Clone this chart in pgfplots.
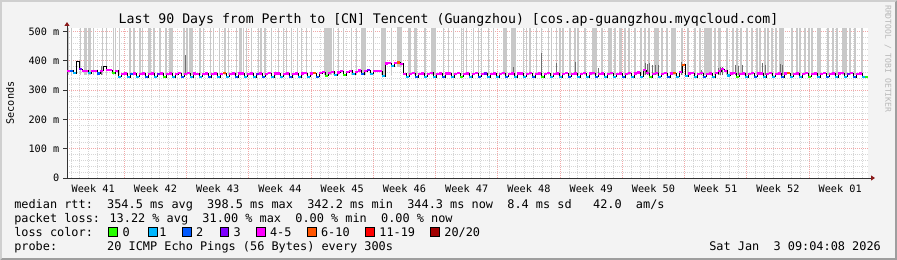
\documentclass[border=0pt]{standalone}
\usepackage{fontspec}
\setmainfont{DejaVu Sans Mono}
\usepackage{pgfplots}
\usepackage{pgfplotstable}
\pgfplotsset{compat=1.18}
\usetikzlibrary{arrows.meta}

\definecolor{bgc}{HTML}{F3F3F3}
\definecolor{shadea}{HTML}{CFCFCF}
\definecolor{shadeb}{HTML}{9E9E9E}
\definecolor{mgrid}{HTML}{F2A8A8}
\definecolor{ngrid}{HTML}{D6D6D6}
\definecolor{smoke}{HTML}{C8C8C8}
\definecolor{dsmoke}{HTML}{707070}
\definecolor{arrowc}{HTML}{8B1A1A}
\definecolor{wm}{HTML}{B8B8B8}
\definecolor{l0}{HTML}{26FF00}
\definecolor{l1}{HTML}{00B8FF}
\definecolor{l2}{HTML}{0059FF}
\definecolor{l3}{HTML}{7E00FF}
\definecolor{l4}{HTML}{FF00FF}
\definecolor{l5}{HTML}{FF5500}
\definecolor{l6}{HTML}{FF0000}
\definecolor{l7}{HTML}{A10000}
\definecolor{l8}{HTML}{000000}

\newcommand{\lgf}{\fontsize{11.87bp}{14bp}\selectfont}
\newcommand{\axf}{\fontsize{10.2bp}{12bp}\selectfont}

% median rtt (ms) per 3-pixel time step; c = loss colour index
\pgfplotstableread[row sep=\\]{
x y c\\
0 366 4\\ 3 366 2\\ 6 358 1\\
9 398 8\\ 12 372 3\\ 15 366 4\\
18 366 4\\ 21 358 1\\ 24 366 4\\
27 366 4\\ 30 357 2\\ 33 366 4\\
36 381 8\\ 39 368 4\\ 42 368 4\\
45 358 0\\ 48 366 4\\ 51 346 1\\
54 356 4\\ 57 357 4\\ 60 345 1\\
63 355 2\\ 66 357 4\\ 69 346 1\\
72 356 4\\ 75 357 4\\ 78 344 2\\
81 356 4\\ 84 357 4\\ 87 346 1\\
90 356 3\\ 93 357 4\\ 96 345 0\\
99 356 4\\ 102 357 4\\ 105 345 1\\
108 355 4\\ 111 358 4\\ 114 346 2\\
117 356 4\\ 120 358 4\\ 123 345 1\\
126 357 4\\ 129 356 4\\ 132 346 1\\
135 355 4\\ 138 357 4\\ 141 344 2\\
144 356 4\\ 147 357 4\\ 150 345 1\\
153 356 4\\ 156 358 5\\ 159 346 1\\
162 356 4\\ 165 357 4\\ 168 345 2\\
171 357 4\\ 174 357 4\\ 177 346 1\\
180 356 4\\ 183 357 4\\ 186 345 1\\
189 356 3\\ 192 357 4\\ 195 346 2\\
198 356 4\\ 201 358 4\\ 204 345 1\\
207 357 4\\ 210 357 4\\ 213 346 1\\
216 356 4\\ 219 357 4\\ 222 345 2\\
225 356 4\\ 228 357 4\\ 231 345 1\\
234 357 4\\ 237 358 4\\ 240 346 1\\
243 357 4\\ 246 358 5\\ 249 346 2\\
252 358 4\\ 255 362 4\\ 258 349 0\\
261 359 4\\ 264 363 4\\ 267 352 1\\
270 360 4\\ 273 364 4\\ 276 352 0\\
279 362 4\\ 282 366 4\\ 285 354 1\\
288 363 4\\ 291 367 4\\ 294 355 2\\
297 364 4\\ 300 368 3\\ 303 356 1\\
306 365 4\\ 309 365 4\\ 312 365 4\\
315 348 1\\ 318 391 4\\ 321 393 4\\
324 382 1\\ 327 392 4\\ 330 394 5\\
333 390 4\\ 336 356 4\\ 339 346 1\\
342 356 4\\ 345 358 4\\ 348 345 2\\
351 356 4\\ 354 357 4\\ 357 346 1\\
360 356 4\\ 363 359 4\\ 366 345 1\\
369 356 4\\ 372 357 4\\ 375 344 2\\
378 357 4\\ 381 357 4\\ 384 345 1\\
387 356 4\\ 390 358 4\\ 393 346 0\\
396 356 4\\ 399 357 4\\ 402 345 1\\
405 356 4\\ 408 358 4\\ 411 346 2\\
414 356 4\\ 417 357 3\\ 420 345 1\\
423 356 4\\ 426 357 4\\ 429 345 1\\
432 356 4\\ 435 358 4\\ 438 346 2\\
441 356 4\\ 444 357 4\\ 447 345 1\\
450 357 4\\ 453 357 4\\ 456 346 1\\
459 356 4\\ 462 358 4\\ 465 345 2\\
468 356 4\\ 471 357 4\\ 474 345 0\\
477 356 4\\ 480 358 4\\ 483 346 1\\
486 356 4\\ 489 357 4\\ 492 345 1\\
495 356 4\\ 498 358 4\\ 501 346 2\\
504 356 4\\ 507 357 4\\ 510 345 1\\
513 356 4\\ 516 358 4\\ 519 345 1\\
522 357 4\\ 525 358 4\\ 528 346 2\\
531 356 4\\ 534 357 4\\ 537 345 1\\
540 356 4\\ 543 358 4\\ 546 346 1\\
549 356 4\\ 552 357 4\\ 555 345 2\\
558 356 4\\ 561 358 4\\ 564 345 1\\
567 357 4\\ 570 360 4\\ 573 346 1\\
576 368 4\\ 579 358 4\\ 582 345 0\\
585 356 4\\ 588 358 4\\ 591 346 1\\
594 356 4\\ 597 358 4\\ 600 345 2\\
603 357 4\\ 606 358 5\\ 609 346 1\\
612 362 4\\ 615 387 5\\ 618 348 1\\
621 357 4\\ 624 358 4\\ 627 345 1\\
630 356 4\\ 633 358 4\\ 636 346 2\\
639 356 4\\ 642 357 4\\ 645 345 1\\
648 358 4\\ 651 364 4\\ 654 372 4\\
657 366 4\\ 660 350 1\\ 663 357 4\\
666 358 4\\ 669 346 0\\ 672 356 4\\
675 357 4\\ 678 345 1\\ 681 356 4\\
684 358 4\\ 687 346 2\\ 690 357 4\\
693 357 4\\ 696 345 1\\ 699 356 4\\
702 358 4\\ 705 346 1\\ 708 356 4\\
711 357 4\\ 714 345 2\\ 717 357 4\\
720 358 5\\ 723 346 1\\ 726 356 4\\
729 357 4\\ 732 345 1\\ 735 356 4\\
738 358 4\\ 741 346 0\\ 744 356 4\\
747 357 4\\ 750 345 1\\ 753 356 4\\
756 358 4\\ 759 346 2\\ 762 356 4\\
765 357 4\\ 768 345 1\\ 771 357 4\\
774 358 4\\ 777 346 1\\ 780 356 3\\
783 358 4\\ 786 345 2\\ 789 356 4\\
792 357 4\\ 795 346 1\\ 798 344 0\\
}\median

% light smoke: lines from b up to the top of the graph
\pgfplotstableread[row sep=\\]{
x b\\
1.3 352\\ 4.7 352\\ 13.7 352\\ 18 352\\ 19.7 352\\ 21.3 352\\ 23 352\\ 26.3 352\\
35.3 352\\ 39.7 352\\ 46.3 352\\ 48.7 352\\ 52.3 352\\ 63 352\\ 67 352\\ 73 352\\
75.3 352\\ 81.3 352\\ 83 352\\ 87 352\\ 93 352\\ 99 352\\ 103 352\\ 105 352\\
117 352\\ 120 352\\ 123 352\\ 124.5 352\\ 125.7 352\\ 133 352\\ 136.3 352\\ 143.7 352\\
146.3 352\\ 152.3 352\\ 158 352\\ 161.3 352\\ 169.7 352\\ 173 352\\ 174 352\\ 176.3 352\\
179.7 352\\ 184.7 352\\ 191.3 352\\ 194 352\\ 198 352\\ 204.7 352\\ 211.3 352\\ 216.3 352\\
219.7 352\\ 224.7 352\\ 230.7 352\\ 234.7 352\\ 239.7 352\\ 244.7 352\\ 258 352\\ 259 352\\
260 352\\ 261 352\\ 262 352\\ 263 352\\ 264 352\\ 266.3 352\\ 271.3 352\\ 276.3 352\\
284.7 352\\ 289.7 352\\ 294.7 352\\ 295.7 352\\ 296.7 352\\ 298 352\\ 306.3 352\\ 314.7 352\\
315.7 352\\ 316.7 352\\ 318 352\\ 324.7 352\\ 331 380\\ 332 380\\ 333 380\\ 334.7 380\\
341.3 352\\ 343 352\\ 348 352\\ 349.7 352\\ 358 352\\ 364.7 352\\ 365.7 352\\ 366.7 352\\
368 352\\ 376.3 352\\ 381.3 352\\ 386.3 352\\ 394.7 352\\ 396.3 352\\ 399.7 352\\ 406.3 352\\
411.3 352\\ 414.7 352\\ 421.3 352\\ 426.3 352\\ 436.3 352\\ 437.3 352\\ 438.3 352\\ 439.7 352\\
444.7 352\\ 445.7 352\\ 446.7 352\\ 448 352\\ 456.3 352\\ 459.7 352\\ 463 352\\ 469.7 352\\
474.7 352\\ 481.3 352\\ 484.7 352\\ 489.7 352\\ 493 352\\ 496 352\\ 503 352\\ 508 352\\
511 352\\ 518 352\\ 526 352\\ 527 352\\ 528 352\\ 529 352\\ 535 352\\ 542 352\\
543 352\\ 544 352\\ 548 352\\ 553 352\\ 554 352\\ 558 352\\ 562 352\\ 568 352\\
574 352\\ 578 352\\ 582 352\\ 588 352\\ 589 352\\ 590 352\\ 591 352\\ 595 352\\
600 352\\ 605 352\\ 606 352\\ 607 352\\ 608 352\\ 615 352\\ 621 352\\ 628 352\\
633 352\\ 638 352\\ 640 352\\ 641 352\\ 642 352\\ 643 352\\ 644 352\\ 648 352\\
652 352\\ 653 352\\ 660 352\\ 666 352\\ 670 352\\ 674 352\\ 680 352\\ 685 352\\
690 352\\ 693 352\\ 698 352\\ 701 352\\ 705 352\\ 709 352\\ 713 352\\ 714 352\\
715 352\\ 716 352\\ 725 352\\ 730 352\\ 733 352\\ 738 352\\ 742 352\\ 745 352\\
751 352\\ 753 352\\ 761 352\\ 766 352\\ 770 352\\ 776 352\\ 777 352\\ 778 352\\
779 352\\ 783 352\\ 788 352\\ 795 352\\
}\smoke

% dark smoke near the median: base b, height h
\pgfplotstableread[row sep=\\]{
x b h\\
34 352 30\\ 118 352 68\\ 446.3 352 28\\ 474.7 352 73\\ 489.7 352 39\\ 508 352 45\\
531 352 22\\ 578 352 39\\ 580 352 36\\ 582 352 39\\ 585 352 34\\ 588 352 34\\
591 352 32\\ 614.7 352 43\\ 634.7 352 17\\ 651.3 352 22\\ 653 352 28\\ 655 352 26\\
668 352 34\\ 671 352 31\\ 675 352 34\\ 695 352 39\\ 698 352 33\\ 713 352 36\\
715 352 33\\
}\dsmoke

\begin{document}
\begin{tikzpicture}
\fill[shadeb] (0,0) rectangle (897bp,260bp);
\fill[shadea] (0,0) -- (0,260bp) -- (897bp,260bp) -- (895bp,258bp) -- (2bp,258bp) -- (2bp,2bp) -- cycle;
\fill[bgc] (2bp,2bp) rectangle (895bp,258bp);

\begin{axis}[
  at={(67bp,82bp)}, anchor=south west,
  scale only axis, width=801bp, height=150bp,
  xmin=0, xmax=801, ymin=0, ymax=512,
  axis x line*=bottom, axis y line*=left,
  axis line style={draw=black!80, line width=0.8bp},
  x axis line style={shorten >=-7bp, -{Triangle[width=5bp,length=4bp,color=arrowc]}},
  y axis line style={shorten >=-6bp, -{Triangle[width=5bp,length=4bp,color=arrowc]}},
  axis background/.style={fill=white},
  xtick={26.175,88.425,150.675,212.925,275.175,337.425,399.675,461.925,524.175,586.425,648.675,710.925,773.175},
  xticklabels={Week 41,Week 42,Week 43,Week 44,Week 45,Week 46,Week 47,Week 48,Week 49,Week 50,Week 51,Week 52,Week 01},
  xtick style={draw=none},
  extra x ticks={57.3,119.55,181.8,244.05,306.3,368.55,430.8,493.05,555.3,617.55,679.8,742.05},
  extra x tick labels={},
  extra x tick style={grid=major},
  minor xtick={3.94,12.833,...,800},
  xminorgrids,
  ytick={0,100,...,500},
  yticklabels={0,100 m,200 m,300 m,400 m,500 m},
  minor ytick={20,40,...,480},
  ymajorgrids, yminorgrids,
  major grid style={draw=mgrid, line width=0.8bp, dash pattern=on 1bp off 1bp},
  minor grid style={draw=ngrid, line width=0.8bp, dash pattern=on 1bp off 1bp},
  ytick style={draw=black!80, line width=0.8bp},
  major tick length=3.5bp, minor tick length=0pt,
  tick align=outside,
  ticklabel style={font=\axf},
  yticklabel style={anchor=east, inner sep=0pt, xshift=-4bp},
  xticklabel style={anchor=north, inner sep=0pt, yshift=-2.8bp},
]
\addplot[draw=smoke, line width=1.2bp, quiver={u=0, v=160}] table[x=x, y=b] {\smoke};
\addplot[draw=dsmoke, line width=1bp, quiver={u=0, v=\thisrow{h}}] table[x=x, y=b] {\dsmoke};
\addplot[draw=black, line width=0.7bp, const plot mark left] table[x=x, y=y] {\median};
\addplot[draw=l0, line width=2.2bp, quiver={u=3, v=0}, restrict expr to domain={\thisrow{c}}{0:0}] table[x=x, y=y] {\median};
\addplot[draw=l1, line width=2.2bp, quiver={u=3, v=0}, restrict expr to domain={\thisrow{c}}{1:1}] table[x=x, y=y] {\median};
\addplot[draw=l2, line width=2.2bp, quiver={u=3, v=0}, restrict expr to domain={\thisrow{c}}{2:2}] table[x=x, y=y] {\median};
\addplot[draw=l3, line width=2.2bp, quiver={u=3, v=0}, restrict expr to domain={\thisrow{c}}{3:3}] table[x=x, y=y] {\median};
\addplot[draw=l4, line width=2.2bp, quiver={u=3, v=0}, restrict expr to domain={\thisrow{c}}{4:4}] table[x=x, y=y] {\median};
\addplot[draw=l5, line width=2.2bp, quiver={u=3, v=0}, restrict expr to domain={\thisrow{c}}{5:5}] table[x=x, y=y] {\median};
\addplot[draw=l8, line width=1.2bp, quiver={u=3, v=0}, restrict expr to domain={\thisrow{c}}{8:8}] table[x=x, y=y] {\median};
\end{axis}

\node[anchor=base, inner sep=0pt, font=\fontsize{13.2bp}{15bp}\selectfont] at (448.5bp,236.5bp)
  {Last 90 Days from Perth to [CN] Tencent (Guangzhou) [cos.ap-guangzhou.myqcloud.com]};
\node[rotate=90, inner sep=0pt, font=\axf] at (10bp,157bp) {Seconds};
\node[rotate=-90, anchor=west, inner sep=0pt, text=wm, font=\fontsize{8.1bp}{10bp}\selectfont] at (888bp,255bp) {RRDTOOL / TOBI OETIKER};

\node[anchor=base west, inner sep=0pt, font=\lgf] at (14.1bp,51.7bp)
  {median rtt:~~354.5 ms avg~~398.5 ms max~~342.2 ms min~~344.3 ms now~~8.4 ms sd~~~42.0~~am/s};
\node[anchor=base west, inner sep=0pt, font=\lgf] at (14.1bp,37.7bp)
  {packet loss: 13.22 \% avg~~31.00 \% max~~0.00 \% min~~0.00 \% now};
\node[anchor=base west, inner sep=0pt, font=\lgf] at (14.1bp,23.7bp) {loss color:};
\node[anchor=base west, inner sep=0pt, font=\lgf] at (14.1bp,9.7bp)
  {probe:~~~~~~~20 ICMP Echo Pings (56 Bytes) every 300s};
\node[anchor=base east, inner sep=0pt, font=\lgf] at (881bp,9.7bp) {Sat Jan~~3 09:04:08 2026};

\foreach \bx/\col/\tx/\lab in {108.3/l0/122.5/0, 148.3/l1/159.2/1, 182.7/l2/195.9/2, 220/l3/233.5/3, 256.7/l4/269.9/4-5, 307.3/l5/320.9/6-10, 365.7/l6/379.2/11-19, 430.7/l7/444.2/20\slash 20}{
  \filldraw[fill=\col, draw=black, line width=0.8bp] (\bx bp,23.8bp) rectangle ++(8.6bp,9bp);
  \node[anchor=base west, inner sep=0pt, font=\lgf] at (\tx bp,23.7bp) {\lab};
}

\pgfresetboundingbox
\path[use as bounding box] (0,0) rectangle (897bp,260bp);
\end{tikzpicture}
\end{document}
